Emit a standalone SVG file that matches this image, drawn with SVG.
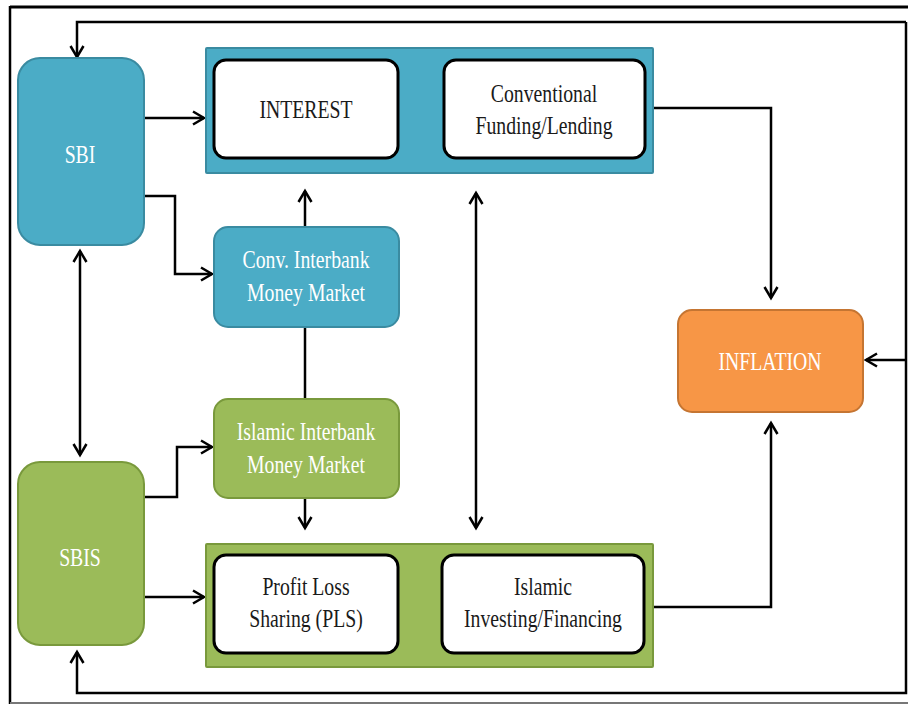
<svg xmlns="http://www.w3.org/2000/svg" width="908" height="706" viewBox="0 0 908 706">
<defs>
<marker id="ah" markerUnits="userSpaceOnUse" markerWidth="16" markerHeight="16" refX="13" refY="8" orient="auto-start-reverse">
<path d="M2,1.5 L13,8 L2,14.5" fill="none" stroke="#000" stroke-width="2.5"/>
</marker>
</defs>
<style>
.blue{fill:#4bacc6;stroke:#3a8ba1;stroke-width:2}
.green{fill:#9bbb59;stroke:#79993c;stroke-width:2}
.orange{fill:#f79646;stroke:#c57532;stroke-width:2}
.inner{fill:#fff;stroke:#000;stroke-width:3}
text{font-family:'Liberation Serif','Times New Roman',serif;font-size:26px;text-anchor:middle}
.w{fill:#fff}
.k{fill:#1a1a1a}
.c{fill:none;stroke:#000;stroke-width:2.5}
.ca{fill:none;stroke:#000;stroke-width:2.5;marker-end:url(#ah)}
.cd{fill:none;stroke:#000;stroke-width:2.5;marker-end:url(#ah);marker-start:url(#ah)}
</style>
<rect width="908" height="706" fill="#fff"/>
<g id="frame">
<line x1="10" y1="7" x2="908" y2="7" stroke="#000" stroke-width="3"/>
<line x1="10" y1="6" x2="10" y2="704" stroke="#000" stroke-width="2.5"/>
<line x1="10" y1="703" x2="908" y2="703" stroke="#777" stroke-width="2"/>
</g>
<g id="connectors">
<path class="ca" d="M906,22 H77 V57"/>
<path class="ca" d="M906,22 V693 H77 V652"/>
<path class="ca" d="M906,360 H866"/>
<path class="ca" d="M145,118 H204"/>
<path class="ca" d="M145,196 H175 V274 H212"/>
<path class="ca" d="M145,497 H177 V447 H212"/>
<path class="ca" d="M145,597 H204"/>
<path class="cd" d="M80,251 V455"/>
<path class="ca" d="M305,226 V191"/>
<path class="c" d="M305,327 V398"/>
<path class="ca" d="M305,498 V528"/>
<path class="cd" d="M476,193 V528"/>
<path class="ca" d="M399,108 H441"/>
<path class="ca" d="M399,598 H440"/>
<path class="ca" d="M653,108 H771 V298"/>
<path class="ca" d="M653,607 H771 V423"/>
</g>
<g id="sbi">
<rect class="blue" x="18" y="58" width="126" height="187" rx="22"/>
<text class="w" transform="matrix(0.76 0 0 1 80 163)">SBI</text>
</g>
<g id="sbis">
<rect class="green" x="18" y="462" width="126" height="183" rx="22"/>
<text class="w" transform="matrix(0.76 0 0 1 80 566)">SBIS</text>
</g>
<g id="conventional-group">
<rect class="blue" x="206" y="48" width="447" height="125" rx="1"/>
</g>
<g id="interest">
<rect class="inner" x="214" y="60" width="184" height="98" rx="12"/>
<text class="k" transform="matrix(0.76 0 0 1 306 118)">INTEREST</text>
</g>
<g id="conventional-funding">
<rect class="inner" x="444" y="60" width="201" height="98" rx="12"/>
<text class="k" transform="matrix(0.76 0 0 1 544 102)">Conventional</text>
<text class="k" transform="matrix(0.76 0 0 1 544 134)">Funding/Lending</text>
</g>
<g id="conv-interbank">
<rect class="blue" x="214" y="227" width="185" height="100" rx="14"/>
<text class="w" transform="matrix(0.76 0 0 1 306 268)">Conv. Interbank</text>
<text class="w" transform="matrix(0.76 0 0 1 306 301)">Money Market</text>
</g>
<g id="islamic-interbank">
<rect class="green" x="214" y="399" width="185" height="99" rx="14"/>
<text class="w" transform="matrix(0.76 0 0 1 306 440)">Islamic Interbank</text>
<text class="w" transform="matrix(0.76 0 0 1 306 473)">Money Market</text>
</g>
<g id="islamic-group">
<rect class="green" x="206" y="544" width="447" height="123" rx="1"/>
</g>
<g id="pls">
<rect class="inner" x="214" y="555" width="184" height="98" rx="12"/>
<text class="k" transform="matrix(0.76 0 0 1 306 595)">Profit Loss</text>
<text class="k" transform="matrix(0.76 0 0 1 306 627)">Sharing (PLS)</text>
</g>
<g id="islamic-investing">
<rect class="inner" x="442" y="555" width="202" height="98" rx="12"/>
<text class="k" transform="matrix(0.76 0 0 1 543 595)">Islamic</text>
<text class="k" transform="matrix(0.76 0 0 1 543 627)">Investing/Financing</text>
</g>
<g id="inflation">
<rect class="orange" x="678" y="310" width="185" height="102" rx="14"/>
<text class="w" transform="matrix(0.76 0 0 1 770 370)">INFLATION</text>
</g>
</svg>
